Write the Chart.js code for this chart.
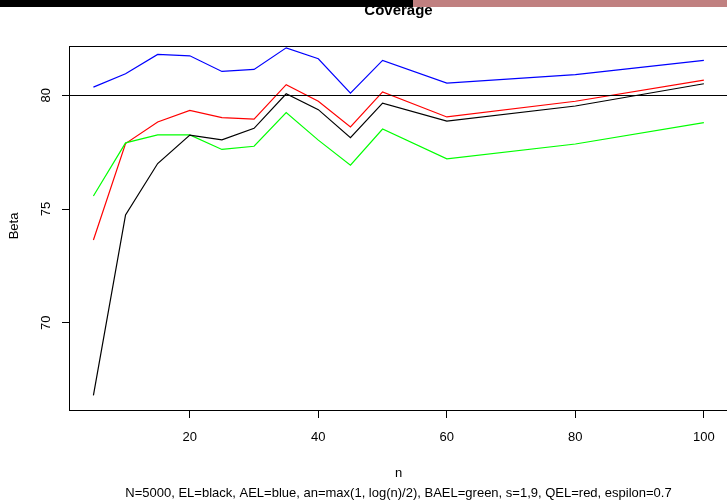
<!DOCTYPE html>
<html>
<head>
<meta charset="utf-8">
<script src="https://cdn.jsdelivr.net/npm/chart.js@4.4.1/dist/chart.umd.min.js"></script>
<style>
  body { margin: 0; background: #fff; }
  #wrap { position: relative; width: 727px; height: 501px; }
  #barBlack { position: absolute; left: 0; top: 0; width: 413px; height: 7px; background: #000; }
  #barPink { position: absolute; left: 413px; top: 0; width: 314px; height: 7px; background: rgb(192,128,128); }
</style>
</head>
<body>
<div id="wrap">
  <canvas id="chart-area" width="727" height="501"></canvas>
  <div id="barBlack"></div>
  <div id="barPink"></div>
</div>
<script>
var nValues = [5, 10, 15, 20, 25, 30, 35, 40, 45, 50, 60, 80, 100];

var elBlack  = [66.80, 74.74, 77.00, 78.25, 78.04, 78.55, 80.07, 79.37, 78.14, 79.66, 78.87, 79.53, 80.51];
var aelBlue  = [80.36, 80.95, 81.80, 81.74, 81.05, 81.14, 82.09, 81.61, 80.10, 81.54, 80.54, 80.91, 81.54];
var baelGreen = [75.57, 77.91, 78.26, 78.26, 77.62, 77.76, 79.24, 78.03, 76.93, 78.52, 77.21, 77.86, 78.80];
var qelRed   = [73.64, 77.88, 78.83, 79.34, 79.02, 78.95, 80.47, 79.74, 78.61, 80.15, 79.05, 79.74, 80.67];

var xTicks = [20, 40, 60, 80, 100];
var yTicks = [70, 75, 80];
var refLine = 80;

var titleText = 'Coverage';
var xLabel = 'n';
var yLabel = 'Beta';
var subText = 'N=5000, EL=black, AEL=blue, an=max(1, log(n)/2), BAEL=green, s=1,9, QEL=red, espilon=0.7';

var FONT = '"Liberation Sans", Arial, Helvetica, sans-serif';

function series(values) {
	return values.map(function (v, i) { return { x: nValues[i], y: v }; });
}

function line(label, values, color) {
	return {
		label: label,
		data: series(values),
		borderColor: color,
		borderWidth: 1.2,
		pointRadius: 0,
		tension: 0,
		fill: false
	};
}

var rPlot = {
	id: 'rPlot',
	afterDraw: function (chart) {
		var ctx = chart.ctx;
		var a = chart.chartArea;
		var y = chart.scales.y;
		ctx.save();
		ctx.strokeStyle = '#000';
		ctx.lineWidth = 1;
		// box
		ctx.strokeRect(Math.round(a.left) + 0.5, Math.round(a.top) + 0.5,
			Math.round(a.right - a.left) + 5, Math.round(a.bottom - a.top));
		// abline h=80
		var yr = Math.round(y.getPixelForValue(refLine)) + 0.5;
		ctx.beginPath();
		ctx.moveTo(a.left, yr);
		ctx.lineTo(a.right, yr);
		ctx.stroke();

		ctx.fillStyle = '#000';
		ctx.textAlign = 'center';
		ctx.textBaseline = 'middle';
		// y tick labels, rotated
		ctx.font = '13px ' + FONT;
		yTicks.forEach(function (t) {
			ctx.save();
			ctx.translate(46, y.getPixelForValue(t));
			ctx.rotate(-Math.PI / 2);
			ctx.fillText(String(t), 0, 0);
			ctx.restore();
		});
		// y label
		ctx.save();
		ctx.translate(14, 226);
		ctx.rotate(-Math.PI / 2);
		ctx.fillText(yLabel, 0, 0);
		ctx.restore();

		var cx = 398.5;
		ctx.fillText(xLabel, cx, 473);
		ctx.fillText(subText, cx, 493);

		ctx.font = 'bold 15px ' + FONT;
		ctx.textBaseline = 'alphabetic';
		ctx.fillText(titleText, cx, 15);
		ctx.restore();
	}
};

var config = {
	type: 'line',
	data: {
		datasets: [
			line('EL', elBlack, '#000000'),
			line('AEL', aelBlue, '#0000ff'),
			line('BAEL', baelGreen, '#00ff00'),
			line('QEL', qelRed, '#ff0000')
		]
	},
	options: {
		responsive: false,
		animation: false,
		devicePixelRatio: 1,
		layout: { padding: { left: 0, right: 0, top: 46, bottom: 0 } },
		plugins: {
			legend: { display: false },
			tooltip: { enabled: false }
		},
		scales: {
			x: {
				type: 'linear',
				min: 1.2,
				max: 103.6,
				afterBuildTicks: function (s) { s.ticks = xTicks.map(function (v) { return { value: v }; }); },
				afterFit: function (s) { s.height = 91; },
				border: { display: false },
				grid: { drawOnChartArea: false, drawTicks: true, tickLength: 8, color: '#000', lineWidth: 1 },
				ticks: {
					color: '#000',
					font: { family: FONT, size: 13 },
					padding: 12,
					maxRotation: 0,
					autoSkip: false
				}
			},
			y: {
				type: 'linear',
				min: 66.16,
				max: 82.17,
				afterBuildTicks: function (s) { s.ticks = yTicks.map(function (v) { return { value: v }; }); },
				afterFit: function (s) { s.width = 69; },
				border: { display: false },
				grid: { drawOnChartArea: false, drawTicks: true, tickLength: 7, color: '#000', lineWidth: 1 },
				ticks: { display: false }
			}
		}
	},
	plugins: [rPlot]
};

window.onload = function () {
	var ctx = document.getElementById('chart-area').getContext('2d');
	window.myLine = new Chart(ctx, config);
};
</script>
</body>
</html>
